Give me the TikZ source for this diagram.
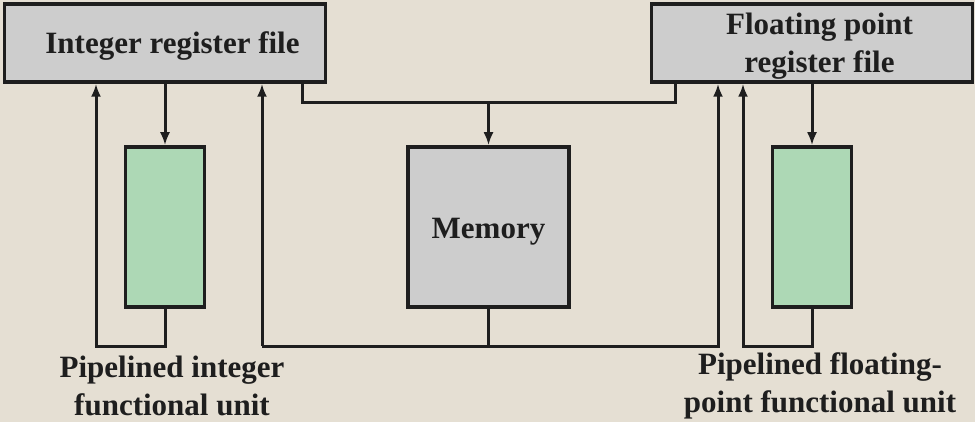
\documentclass[tikz,border=0pt]{standalone}
\usepackage{fontspec}
\setmainfont{Liberation Serif}
\usetikzlibrary{arrows.meta}

\definecolor{paper}{RGB}{229,223,211}
\definecolor{boxgray}{RGB}{205,205,205}
\definecolor{unitgreen}{RGB}{173,216,181}
\definecolor{ink}{RGB}{30,30,30}

\begin{document}
\begin{tikzpicture}[x=1pt, y=-1pt, color=ink, line width=3pt,
    txt/.style={font=\fontsize{31}{38}\selectfont\bfseries, align=center},
    regfile/.style={txt, draw, fill=boxgray, line width=3.5pt, inner sep=0pt,
        minimum width=321pt, minimum height=78pt},
    unitbox/.style={draw, fill=unitgreen, line width=3.5pt, inner sep=0pt,
        minimum width=79pt, minimum height=160pt},
    arr/.style={-{Latex[length=13pt,width=10pt]}}]
    \fill[paper] (0,0) rectangle (975,422);
    \useasboundingbox (0,0) rectangle (975,422);

    \node[regfile, text height=29pt, text depth=7pt] (intreg) at (165,43)
        {\hspace*{15pt}Integer register file};
    \node[regfile, text depth=-10pt] (fpreg) at (812,43)
        {\hspace*{15pt}Floating point\\\hspace*{15pt}register file};
    \node[unitbox] (intunit) at (165,227) {};
    \node[unitbox] (fpunit)  at (812,227) {};
    \node[unitbox, fill=boxgray, txt, minimum width=161pt,
        text height=30pt, text depth=7pt] (mem) at (488.5,227) {Memory};

    \node[txt] (intlabel) at (172,386) {Pipelined integer\\functional unit};
    \node[txt] (fplabel)  at (820,386) {Pipelined floating-\\point functional unit};

    % bus corners
    \coordinate (topl)  at (302,103);
    \coordinate (topr)  at (675,103);
    \coordinate (busl)  at (262,346);
    \coordinate (busr)  at (718,346);
    \coordinate (intfb) at (96,346);
    \coordinate (fpfb)  at (743,346);

    % register files to units and memory
    \draw[arr] (intreg.south) -- (intunit.north);
    \draw[arr] (fpreg.south) -- (fpunit.north);
    \draw (topl |- intreg.south) -- (topl) -- (topr) -- (topr |- fpreg.south);
    \draw[arr] (mem.north |- topl) -- (mem.north);

    % results back to the register files
    \draw[arr] (intunit.south) |- (intfb) -- (intfb |- intreg.south);
    \draw[arr] (fpunit.south) |- (fpfb) -- (fpfb |- fpreg.south);
    \draw (mem.south) -- (mem.south |- busl);
    \draw[arr] (busl) -- (busl |- intreg.south);
    \draw[arr] (busl) -- (busr) -- (busr |- fpreg.south);
\end{tikzpicture}
\end{document}
